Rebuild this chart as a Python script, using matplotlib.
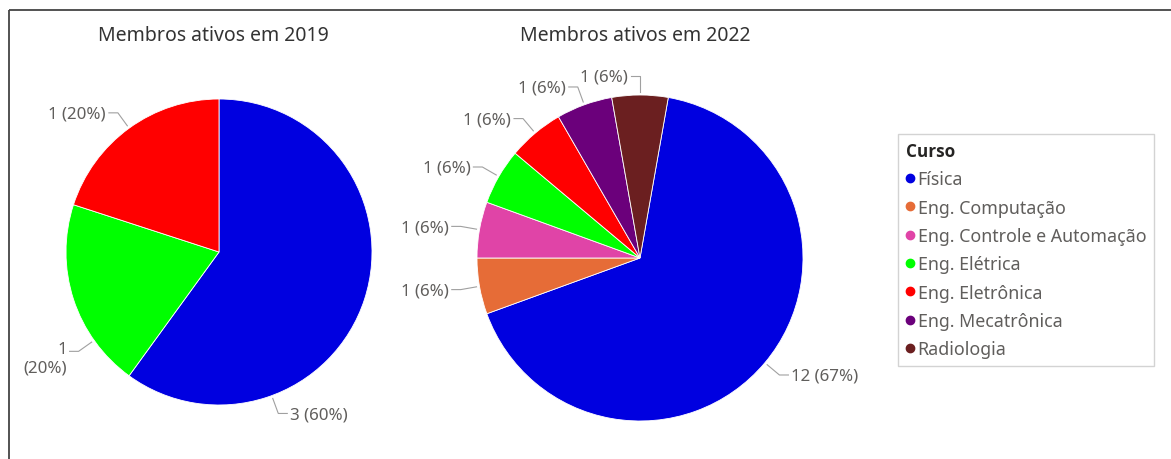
import numpy as np
import matplotlib
matplotlib.use("Agg")
import matplotlib.pyplot as plt
from matplotlib.lines import Line2D

plt.rcParams['font.family'] = ['Noto Sans', 'DejaVu Sans']

# data
courses = ["Física", "Eng. Computação", "Eng. Controle e Automação", "Eng. Elétrica",
           "Eng. Eletrônica", "Eng. Mecatrônica", "Radiologia"]
course_colors = ["#0000E0", "#E66C37", "#E044A7", "#00FF00", "#FF0000", "#6B007B", "#6B1F20"]

courses_2019 = ["Física", "Eng. Elétrica", "Eng. Eletrônica"]
members_2019 = [3, 1, 1]
courses_2022 = ["Física", "Eng. Computação", "Eng. Controle e Automação", "Eng. Elétrica",
                "Eng. Eletrônica", "Eng. Mecatrônica", "Radiologia"]
members_2022 = [12, 1, 1, 1, 1, 1, 1]

# where along each wedge (0..1, clockwise from its start) the leader line starts
label_frac_2019 = [0.74, 0.26, 0.5]
label_frac_2022 = [0.5] * 7

W, H = 1171, 460
TEXT = "#605E5C"

fig = plt.figure(figsize=(W / 100, H / 100), dpi=100)
ax = fig.add_axes([0, 0, 1, 1])

# panel border (top and left)
ax.plot([9, W], [11, 11], color="#444444", lw=1.3, solid_capstyle="butt")
ax.plot([9, 9], [11, H], color="#444444", lw=1.3, solid_capstyle="butt")


def draw_pie(names, values, fracs, cx, cy, r, start, title, title_x, wrap=()):
    colors = [course_colors[courses.index(n)] for n in names]
    # y axis is inverted, so counterclock=True draws clockwise on screen
    wedges, _ = ax.pie(values, colors=colors, startangle=-start, counterclock=True,
                       center=(cx, cy), radius=r, frame=True,
                       wedgeprops=dict(linewidth=0.6, edgecolor="white"))
    total = sum(values)
    for i, (w, v, f) in enumerate(zip(wedges, values, fracs)):
        a = np.deg2rad(w.theta1 + f * (w.theta2 - w.theta1))
        dx, dy = np.cos(a), np.sin(a)
        p0 = (cx + (r + 3) * dx, cy + (r + 3) * dy)
        p1 = (cx + (r + 19) * dx, cy + (r + 19) * dy)
        side = 1 if dx > 0.01 else -1
        p2 = (p1[0] + 9 * side, p1[1])
        ax.plot([p0[0], p1[0], p2[0]], [p0[1], p1[1], p2[1]], color="#A0A0A0", lw=0.8)
        if i in wrap:
            ax.text(p2[0] - 3, p2[1] - 10, f"{v}\n({v / total:.0%})", ha="right",
                    va="top", multialignment="right", fontsize=12.2, color=TEXT,
                    linespacing=1.2)
        else:
            ax.text(p2[0] + 3 * side, p2[1] + 1, f"{v} ({v / total:.0%})",
                    ha="left" if side > 0 else "right", va="center",
                    fontsize=12.2, color=TEXT)
    ax.text(title_x, 36, title, ha="center", va="center", fontsize=14, color="#333333")


draw_pie(courses_2019, members_2019, label_frac_2019, 219, 253, 153, 90,
         "Membros ativos em 2019", 213, wrap=(1,))
draw_pie(courses_2022, members_2022, label_frac_2022, 640, 259, 163, 80,
         "Membros ativos em 2022", 635)

ax.set_xlim(0, W)
ax.set_ylim(H, 0)
ax.set_aspect("equal")
ax.axis("off")

handles = [Line2D([], [], marker="o", linestyle="", markersize=6, color=c)
           for c in course_colors]
leg = ax.legend(handles, courses, title="Curso", loc="upper left",
                bbox_to_anchor=(898 / W, 1 - 135 / H), bbox_transform=fig.transFigure,
                borderaxespad=0, fancybox=False, frameon=True, fontsize=12.8,
                handlelength=0.5, handletextpad=0.15, labelspacing=0.58,
                borderpad=0.45,
                title_fontproperties={"family": ["Open Sans", "DejaVu Sans"],
                                      "weight": "bold", "size": 12.3})
leg.get_frame().set_edgecolor("#C8C8C8")
leg.get_frame().set_linewidth(1.0)
leg._legend_box.align = "left"
for t in leg.get_texts():
    t.set_color(TEXT)
leg.get_title().set_color("#252423")

fig.savefig("out.png", dpi=100, facecolor="white")
